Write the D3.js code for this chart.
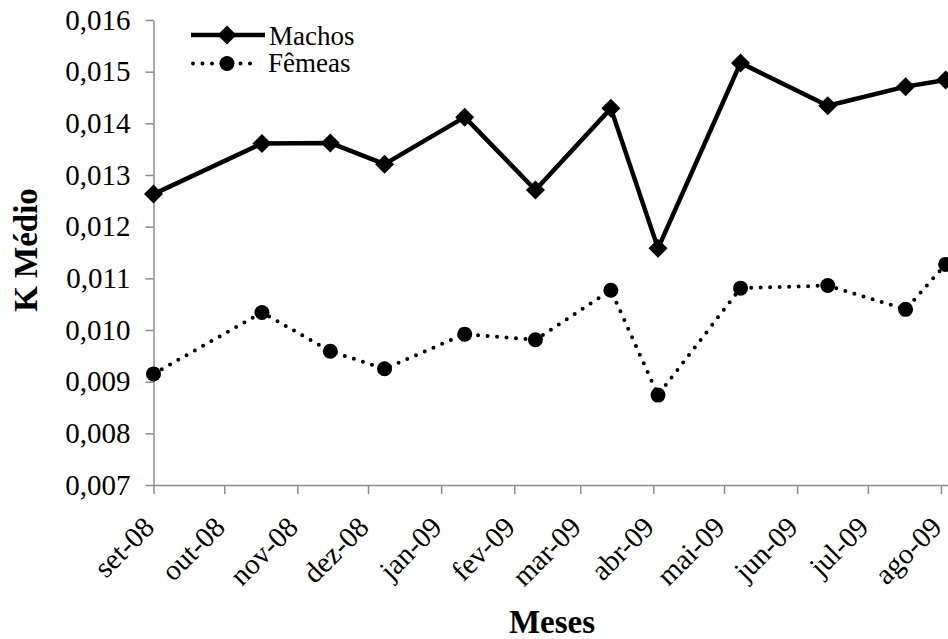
<!DOCTYPE html>
<html><head><meta charset="utf-8">
<script src="https://cdn.jsdelivr.net/npm/d3@7"></script>
<style>body{margin:0;background:#fff}svg{display:block}</style>
</head><body>
<svg id="c" width="948" height="639"></svg>
<script>
const dates = ["2008-09-01","2008-10-17","2008-11-15","2008-12-08","2009-01-11","2009-02-10","2009-03-14","2009-04-03","2009-05-08","2009-06-14","2009-07-17","2009-08-03"];
const machos = [0.01263,0.01361,0.01362,0.01321,0.01412,0.01271,0.01429,0.01158,0.01517,0.01434,0.01471,0.01484];
const femeas = [0.00915,0.01034,0.00959,0.00925,0.00992,0.00981,0.01077,0.00874,0.01081,0.01086,0.01040,0.01127];
const monthLabels = ["set-08","out-08","nov-08","dez-08","jan-09","fev-09","mar-09","abr-09","mai-09","jun-09","jul-09","ago-09"];
const yTicks = [0.007,0.008,0.009,0.010,0.011,0.012,0.013,0.014,0.015,0.016];

const FONT = "'Liberation Serif', Tinos, 'Times New Roman', Times, 'Nimbus Roman', 'DejaVu Serif', serif";
const svg = d3.select("#c");
const parse = d3.utcParse("%Y-%m-%d");
const x = d3.scaleUtc().domain([parse("2008-09-01"), parse("2009-08-04")]).range([153.5, 948]);
const y = d3.scaleLinear().domain([0.007, 0.016]).range([485, 20]);
const fmt = v => d3.format(".3f")(v).replace(".", ",");

// y axis
const ya = svg.append("g").attr("transform","translate(153.5,0)")
  .call(d3.axisLeft(y).tickValues(yTicks).tickSize(8).tickSizeOuter(0).tickFormat(fmt));
ya.attr("font-family", FONT);
ya.select(".domain").attr("stroke","#8c8c8c").attr("stroke-width",1.5);
ya.selectAll(".tick line").attr("stroke","#8c8c8c").attr("stroke-width",1.5);
ya.selectAll(".tick text").attr("font-size",29).attr("x",-23).attr("dy","0.32em").attr("fill","#000");

// x axis
const months = d3.utcMonth.range(parse("2008-09-01"), parse("2009-08-02"));
const xa = svg.append("g").attr("transform","translate(0,485)")
  .call(d3.axisBottom(x).tickValues(months).tickSize(9).tickSizeOuter(0).tickFormat((d,i)=>monthLabels[i]));
xa.attr("font-family", FONT);
xa.select(".domain").attr("stroke","#8c8c8c").attr("stroke-width",1.5);
xa.selectAll(".tick line").attr("stroke","#8c8c8c").attr("stroke-width",1.5);
xa.selectAll(".tick text").attr("font-size",29).attr("fill","#000")
  .attr("text-anchor","end").attr("y",0).attr("dy",0)
  .attr("transform","translate(2,44) rotate(-45)");

const pts = (vals) => vals.map((v,i)=>[x(parse(dates[i])), y(v)]);
const line = d3.line();

// femeas
svg.append("path").attr("d", line(pts(femeas))).attr("fill","none").attr("stroke","#000")
  .attr("stroke-width",4).attr("stroke-linecap","round").attr("stroke-dasharray","0 9.5");
svg.selectAll(".fc").data(pts(femeas)).join("circle").attr("cx",d=>d[0]).attr("cy",d=>d[1]).attr("r",7.5).attr("fill","#000");

// machos
svg.append("path").attr("d", line(pts(machos))).attr("fill","none").attr("stroke","#000")
  .attr("stroke-width",4.5).attr("stroke-linejoin","round");
const diamond = (cx,cy,s)=>`M${cx},${cy-s}L${cx+s},${cy}L${cx},${cy+s}L${cx-s},${cy}Z`;
svg.selectAll(".md").data(pts(machos)).join("path").attr("d",d=>diamond(d[0],d[1],9.5)).attr("fill","#000");

// legend
const lg = svg.append("g").attr("font-family", FONT);
lg.append("line").attr("x1",191).attr("x2",265).attr("y1",35).attr("y2",35).attr("stroke","#000").attr("stroke-width",4.5);
lg.append("path").attr("d",diamond(227,35,9.5)).attr("fill","#000");
lg.append("text").attr("x",269).attr("y",45).attr("font-size",27).text("Machos");
lg.append("line").attr("x1",193).attr("x2",257).attr("y1",63.5).attr("y2",63.5).attr("stroke","#000")
  .attr("stroke-width",4).attr("stroke-linecap","round").attr("stroke-dasharray","0 9.5");
lg.append("circle").attr("cx",227).attr("cy",63.5).attr("r",7.5).attr("fill","#000");
lg.append("text").attr("x",268).attr("y",72).attr("font-size",27).text("Fêmeas");

// axis titles
svg.append("text").attr("font-family", FONT).attr("transform","translate(37,250) rotate(-90)").attr("text-anchor","middle")
  .attr("font-size",33).attr("font-weight","bold").text("K Médio");
svg.append("text").attr("font-family", FONT).attr("x",552).attr("y",633).attr("text-anchor","middle")
  .attr("font-size",33).attr("font-weight","bold").text("Meses");
</script>
</body></html>
